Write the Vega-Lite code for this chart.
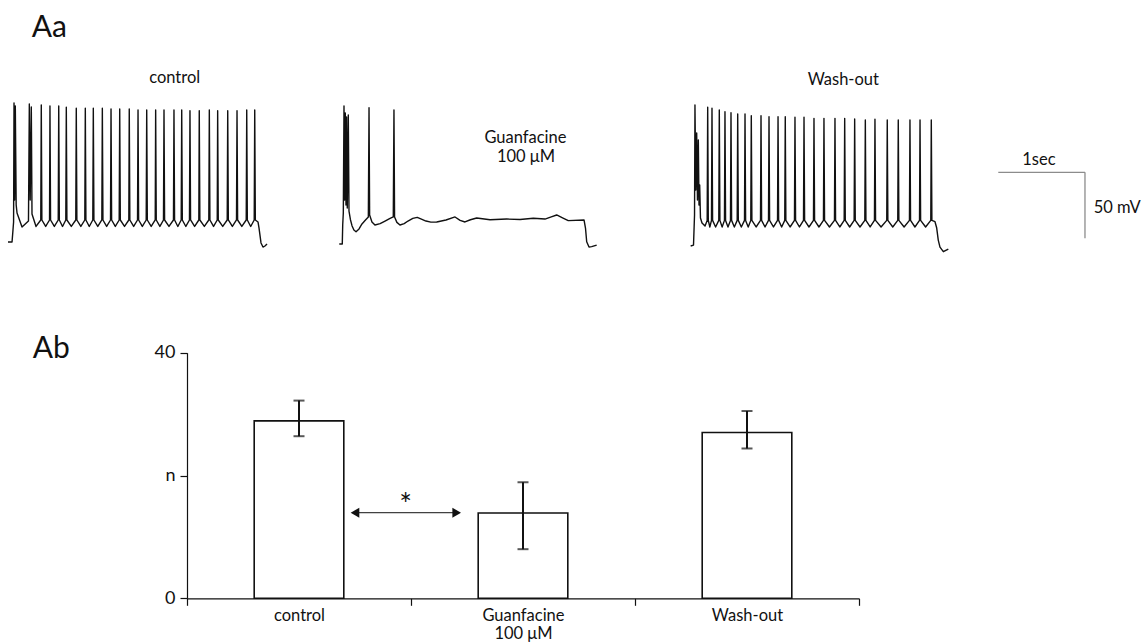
{
"$schema": "https://vega.github.io/schema/vega-lite/v6.json",
"width": 1145, "height": 642, "autosize": {"type": "none"}, "padding": 0,
"background": "white",
"config": {"view": {"stroke": null}, "font": "Lato"},
"datasets": {
"traces": [
{"trace":"control","t":0.093,"mV":-62.9},{"trace":"control","t":0.140,"mV":-62.9},{"trace":"control","t":0.151,"mV":-53.8},{"trace":"control","t":0.158,"mV":-47.7},{"trace":"control","t":0.163,"mV":42.4},{"trace":"control","t":0.170,"mV":-31.1},{"trace":"control","t":0.178,"mV":40.2},{"trace":"control","t":0.188,"mV":-34.8},{"trace":"control","t":0.198,"mV":-40.9},{"trace":"control","t":0.256,"mV":-51.5},{"trace":"control","t":0.331,"mV":-47.0},{"trace":"control","t":0.341,"mV":41.7},{"trace":"control","t":0.351,"mV":-31.1},{"trace":"control","t":0.364,"mV":39.4},{"trace":"control","t":0.372,"mV":-41.7},{"trace":"control","t":0.419,"mV":-51.1},
{"trace":"control","t":0.474,"mV":-46.2},{"trace":"control","t":0.480,"mV":40.9},{"trace":"control","t":0.487,"mV":-46.2},{"trace":"control","t":0.531,"mV":-51.1},
{"trace":"control","t":0.576,"mV":-46.2},{"trace":"control","t":0.581,"mV":40.2},{"trace":"control","t":0.588,"mV":-46.2},{"trace":"control","t":0.632,"mV":-51.1},
{"trace":"control","t":0.677,"mV":-46.2},{"trace":"control","t":0.683,"mV":40.2},{"trace":"control","t":0.690,"mV":-46.2},{"trace":"control","t":0.727,"mV":-51.1},
{"trace":"control","t":0.765,"mV":-46.2},{"trace":"control","t":0.771,"mV":39.2},{"trace":"control","t":0.778,"mV":-46.2},{"trace":"control","t":0.829,"mV":-51.1},
{"trace":"control","t":0.881,"mV":-46.2},{"trace":"control","t":0.887,"mV":38.4},{"trace":"control","t":0.894,"mV":-46.2},{"trace":"control","t":0.940,"mV":-51.1},
{"trace":"control","t":0.986,"mV":-46.2},{"trace":"control","t":0.992,"mV":38.4},{"trace":"control","t":0.999,"mV":-46.2},{"trace":"control","t":1.038,"mV":-51.1},
{"trace":"control","t":1.079,"mV":-46.2},{"trace":"control","t":1.085,"mV":38.4},{"trace":"control","t":1.092,"mV":-46.2},{"trace":"control","t":1.137,"mV":-51.1},
{"trace":"control","t":1.184,"mV":-46.2},{"trace":"control","t":1.190,"mV":38.4},{"trace":"control","t":1.197,"mV":-46.2},{"trace":"control","t":1.240,"mV":-51.1},
{"trace":"control","t":1.285,"mV":-46.2},{"trace":"control","t":1.291,"mV":37.9},{"trace":"control","t":1.298,"mV":-46.2},{"trace":"control","t":1.341,"mV":-51.1},
{"trace":"control","t":1.386,"mV":-46.2},{"trace":"control","t":1.392,"mV":37.9},{"trace":"control","t":1.399,"mV":-46.2},{"trace":"control","t":1.448,"mV":-51.1},
{"trace":"control","t":1.498,"mV":-46.2},{"trace":"control","t":1.503,"mV":37.9},{"trace":"control","t":1.510,"mV":-46.2},{"trace":"control","t":1.554,"mV":-51.1},
{"trace":"control","t":1.599,"mV":-46.2},{"trace":"control","t":1.605,"mV":37.1},{"trace":"control","t":1.612,"mV":-46.2},{"trace":"control","t":1.655,"mV":-51.1},
{"trace":"control","t":1.700,"mV":-46.2},{"trace":"control","t":1.706,"mV":37.1},{"trace":"control","t":1.713,"mV":-46.2},{"trace":"control","t":1.758,"mV":-51.1},
{"trace":"control","t":1.805,"mV":-46.2},{"trace":"control","t":1.810,"mV":37.1},{"trace":"control","t":1.817,"mV":-46.2},{"trace":"control","t":1.859,"mV":-51.1},
{"trace":"control","t":1.901,"mV":-46.2},{"trace":"control","t":1.907,"mV":37.1},{"trace":"control","t":1.914,"mV":-46.2},{"trace":"control","t":1.965,"mV":-51.1},
{"trace":"control","t":2.017,"mV":-46.2},{"trace":"control","t":2.023,"mV":37.1},{"trace":"control","t":2.030,"mV":-46.2},{"trace":"control","t":2.068,"mV":-51.1},
{"trace":"control","t":2.107,"mV":-46.2},{"trace":"control","t":2.113,"mV":37.1},{"trace":"control","t":2.120,"mV":-46.2},{"trace":"control","t":2.161,"mV":-51.1},
{"trace":"control","t":2.203,"mV":-46.2},{"trace":"control","t":2.209,"mV":36.6},{"trace":"control","t":2.216,"mV":-46.2},{"trace":"control","t":2.263,"mV":-51.1},
{"trace":"control","t":2.312,"mV":-46.2},{"trace":"control","t":2.317,"mV":36.6},{"trace":"control","t":2.324,"mV":-46.2},{"trace":"control","t":2.376,"mV":-51.1},
{"trace":"control","t":2.428,"mV":-46.2},{"trace":"control","t":2.434,"mV":37.1},{"trace":"control","t":2.441,"mV":-46.2},{"trace":"control","t":2.483,"mV":-51.1},
{"trace":"control","t":2.526,"mV":-46.2},{"trace":"control","t":2.531,"mV":36.6},{"trace":"control","t":2.538,"mV":-46.2},{"trace":"control","t":2.590,"mV":-51.1},
{"trace":"control","t":2.642,"mV":-46.2},{"trace":"control","t":2.648,"mV":36.6},{"trace":"control","t":2.655,"mV":-46.2},{"trace":"control","t":2.702,"mV":-51.1},
{"trace":"control","t":2.750,"mV":-46.2},{"trace":"control","t":2.756,"mV":36.6},{"trace":"control","t":2.763,"mV":-46.2},{"trace":"control","t":2.812,"mV":-51.1},
{"trace":"control","t":2.863,"mV":-46.2},{"trace":"control","t":2.869,"mV":37.1},{"trace":"control","t":2.876,"mV":-46.2},{"trace":"control","t":2.915,"mV":-51.1},
{"trace":"control","t":2.956,"mV":-46.2},{"trace":"control","t":2.962,"mV":37.1},{"trace":"control","t":2.969,"mV":-46.2},
{"trace":"control","t":3.000,"mV":-47.7},{"trace":"control","t":3.012,"mV":-52.3},{"trace":"control","t":3.035,"mV":-63.6},{"trace":"control","t":3.058,"mV":-66.7},{"trace":"control","t":3.081,"mV":-65.9},{"trace":"control","t":3.105,"mV":-64.4},
{"trace":"guanfacine","t":3.945,"mV":-64.4},{"trace":"guanfacine","t":3.980,"mV":-64.4},{"trace":"guanfacine","t":3.985,"mV":-50.0},{"trace":"guanfacine","t":3.992,"mV":-40.9},{"trace":"guanfacine","t":4.000,"mV":40.2},{"trace":"guanfacine","t":4.007,"mV":-31.1},{"trace":"guanfacine","t":4.015,"mV":34.9},{"trace":"guanfacine","t":4.023,"mV":-34.8},{"trace":"guanfacine","t":4.030,"mV":31.8},{"trace":"guanfacine","t":4.038,"mV":-37.1},{"trace":"guanfacine","t":4.050,"mV":33.3},{"trace":"guanfacine","t":4.058,"mV":-39.4},{"trace":"guanfacine","t":4.075,"mV":-46.0},{"trace":"guanfacine","t":4.093,"mV":-50.5},{"trace":"guanfacine","t":4.115,"mV":-53.8},{"trace":"guanfacine","t":4.140,"mV":-55.1},{"trace":"guanfacine","t":4.175,"mV":-53.0},{"trace":"guanfacine","t":4.209,"mV":-49.2},{"trace":"guanfacine","t":4.250,"mV":-46.2},{"trace":"guanfacine","t":4.283,"mV":-43.9},{"trace":"guanfacine","t":4.291,"mV":38.9},{"trace":"guanfacine","t":4.298,"mV":-42.4},{"trace":"guanfacine","t":4.325,"mV":-47.7},{"trace":"guanfacine","t":4.360,"mV":-50.0},{"trace":"guanfacine","t":4.420,"mV":-49.0},{"trace":"guanfacine","t":4.477,"mV":-47.0},{"trace":"guanfacine","t":4.530,"mV":-45.2},{"trace":"guanfacine","t":4.573,"mV":-43.9},{"trace":"guanfacine","t":4.581,"mV":37.1},{"trace":"guanfacine","t":4.588,"mV":-43.9},{"trace":"guanfacine","t":4.615,"mV":-48.0},{"trace":"guanfacine","t":4.651,"mV":-50.0},{"trace":"guanfacine","t":4.700,"mV":-49.0},{"trace":"guanfacine","t":4.744,"mV":-47.0},{"trace":"guanfacine","t":4.800,"mV":-45.0},{"trace":"guanfacine","t":4.852,"mV":-44.2},{"trace":"guanfacine","t":4.900,"mV":-45.5},{"trace":"guanfacine","t":4.953,"mV":-47.0},{"trace":"guanfacine","t":5.010,"mV":-47.8},{"trace":"guanfacine","t":5.078,"mV":-47.7},{"trace":"guanfacine","t":5.186,"mV":-46.2},{"trace":"guanfacine","t":5.291,"mV":-43.9},{"trace":"guanfacine","t":5.350,"mV":-46.5},{"trace":"guanfacine","t":5.407,"mV":-47.7},{"trace":"guanfacine","t":5.470,"mV":-46.0},{"trace":"guanfacine","t":5.543,"mV":-44.7},{"trace":"guanfacine","t":5.698,"mV":-46.0},{"trace":"guanfacine","t":5.892,"mV":-45.5},{"trace":"guanfacine","t":6.047,"mV":-45.8},{"trace":"guanfacine","t":6.201,"mV":-44.9},{"trace":"guanfacine","t":6.337,"mV":-45.5},{"trace":"guanfacine","t":6.410,"mV":-43.8},{"trace":"guanfacine","t":6.473,"mV":-42.4},{"trace":"guanfacine","t":6.547,"mV":-44.7},{"trace":"guanfacine","t":6.608,"mV":-46.7},{"trace":"guanfacine","t":6.791,"mV":-46.2},{"trace":"guanfacine","t":6.808,"mV":-52.3},{"trace":"guanfacine","t":6.822,"mV":-62.7},{"trace":"guanfacine","t":6.849,"mV":-66.7},{"trace":"guanfacine","t":6.880,"mV":-66.4},{"trace":"guanfacine","t":6.938,"mV":-65.2},
{"trace":"washout","t":8.031,"mV":-65.9},{"trace":"washout","t":8.064,"mV":-65.2},{"trace":"washout","t":8.070,"mV":-53.8},{"trace":"washout","t":8.076,"mV":-42.4},{"trace":"washout","t":8.081,"mV":40.9},{"trace":"washout","t":8.091,"mV":-23.5},{"trace":"washout","t":8.101,"mV":19.7},{"trace":"washout","t":8.110,"mV":-31.1},{"trace":"washout","t":8.120,"mV":14.4},{"trace":"washout","t":8.128,"mV":-34.8},{"trace":"washout","t":8.136,"mV":-19.7},{"trace":"washout","t":8.145,"mV":-44.7},{"trace":"washout","t":8.163,"mV":-48.5},{"trace":"washout","t":8.198,"mV":-50.8},
{"trace":"washout","t":8.223,"mV":-46.5},{"trace":"washout","t":8.229,"mV":39.2},{"trace":"washout","t":8.236,"mV":-46.5},{"trace":"washout","t":8.254,"mV":-51.5},
{"trace":"washout","t":8.273,"mV":-46.5},{"trace":"washout","t":8.279,"mV":38.4},{"trace":"washout","t":8.286,"mV":-46.5},{"trace":"washout","t":8.321,"mV":-51.5},
{"trace":"washout","t":8.358,"mV":-46.5},{"trace":"washout","t":8.364,"mV":37.1},{"trace":"washout","t":8.371,"mV":-46.5},{"trace":"washout","t":8.397,"mV":-51.5},
{"trace":"washout","t":8.424,"mV":-46.5},{"trace":"washout","t":8.430,"mV":35.8},{"trace":"washout","t":8.437,"mV":-46.5},{"trace":"washout","t":8.465,"mV":-51.5},
{"trace":"washout","t":8.494,"mV":-46.5},{"trace":"washout","t":8.500,"mV":35.1},{"trace":"washout","t":8.507,"mV":-46.5},{"trace":"washout","t":8.539,"mV":-51.5},
{"trace":"washout","t":8.572,"mV":-46.5},{"trace":"washout","t":8.578,"mV":34.1},{"trace":"washout","t":8.585,"mV":-46.5},{"trace":"washout","t":8.620,"mV":-51.5},
{"trace":"washout","t":8.657,"mV":-46.5},{"trace":"washout","t":8.663,"mV":34.1},{"trace":"washout","t":8.670,"mV":-46.5},{"trace":"washout","t":8.700,"mV":-51.5},
{"trace":"washout","t":8.730,"mV":-46.5},{"trace":"washout","t":8.736,"mV":32.8},{"trace":"washout","t":8.743,"mV":-46.5},{"trace":"washout","t":8.792,"mV":-51.5},
{"trace":"washout","t":8.843,"mV":-46.5},{"trace":"washout","t":8.849,"mV":32.8},{"trace":"washout","t":8.856,"mV":-46.5},{"trace":"washout","t":8.896,"mV":-51.5},
{"trace":"washout","t":8.936,"mV":-46.5},{"trace":"washout","t":8.942,"mV":32.0},{"trace":"washout","t":8.949,"mV":-46.5},{"trace":"washout","t":8.994,"mV":-51.5},
{"trace":"washout","t":9.041,"mV":-46.5},{"trace":"washout","t":9.047,"mV":32.0},{"trace":"washout","t":9.054,"mV":-46.5},{"trace":"washout","t":9.089,"mV":-51.5},
{"trace":"washout","t":9.125,"mV":-46.5},{"trace":"washout","t":9.131,"mV":32.0},{"trace":"washout","t":9.138,"mV":-46.5},{"trace":"washout","t":9.187,"mV":-51.5},
{"trace":"washout","t":9.238,"mV":-46.5},{"trace":"washout","t":9.244,"mV":31.6},{"trace":"washout","t":9.251,"mV":-46.5},{"trace":"washout","t":9.296,"mV":-51.5},
{"trace":"washout","t":9.343,"mV":-46.5},{"trace":"washout","t":9.349,"mV":31.6},{"trace":"washout","t":9.356,"mV":-46.5},{"trace":"washout","t":9.407,"mV":-51.5},
{"trace":"washout","t":9.459,"mV":-46.5},{"trace":"washout","t":9.465,"mV":30.8},{"trace":"washout","t":9.472,"mV":-46.5},{"trace":"washout","t":9.523,"mV":-51.5},
{"trace":"washout","t":9.575,"mV":-46.5},{"trace":"washout","t":9.581,"mV":30.8},{"trace":"washout","t":9.588,"mV":-46.5},{"trace":"washout","t":9.645,"mV":-51.5},
{"trace":"washout","t":9.703,"mV":-46.5},{"trace":"washout","t":9.709,"mV":30.8},{"trace":"washout","t":9.716,"mV":-46.5},{"trace":"washout","t":9.765,"mV":-51.5},
{"trace":"washout","t":9.816,"mV":-46.5},{"trace":"washout","t":9.822,"mV":30.8},{"trace":"washout","t":9.829,"mV":-46.5},{"trace":"washout","t":9.880,"mV":-51.5},
{"trace":"washout","t":9.932,"mV":-46.5},{"trace":"washout","t":9.938,"mV":30.3},{"trace":"washout","t":9.945,"mV":-46.5},{"trace":"washout","t":10.000,"mV":-51.5},
{"trace":"washout","t":10.056,"mV":-46.5},{"trace":"washout","t":10.062,"mV":29.5},{"trace":"washout","t":10.069,"mV":-46.5},{"trace":"washout","t":10.118,"mV":-51.5},
{"trace":"washout","t":10.168,"mV":-46.5},{"trace":"washout","t":10.174,"mV":30.1},{"trace":"washout","t":10.181,"mV":-46.5},{"trace":"washout","t":10.245,"mV":-51.5},
{"trace":"washout","t":10.311,"mV":-46.5},{"trace":"washout","t":10.317,"mV":29.5},{"trace":"washout","t":10.324,"mV":-46.5},{"trace":"washout","t":10.381,"mV":-51.5},
{"trace":"washout","t":10.439,"mV":-46.5},{"trace":"washout","t":10.445,"mV":29.5},{"trace":"washout","t":10.452,"mV":-46.5},{"trace":"washout","t":10.513,"mV":-51.5},
{"trace":"washout","t":10.575,"mV":-46.5},{"trace":"washout","t":10.581,"mV":29.5},{"trace":"washout","t":10.588,"mV":-46.5},{"trace":"washout","t":10.639,"mV":-51.5},
{"trace":"washout","t":10.692,"mV":-46.5},{"trace":"washout","t":10.698,"mV":29.5},{"trace":"washout","t":10.705,"mV":-46.5},{"trace":"washout","t":10.763,"mV":-51.5},
{"trace":"washout","t":10.823,"mV":-46.5},{"trace":"washout","t":10.829,"mV":29.5},{"trace":"washout","t":10.836,"mV":-46.5},
{"trace":"washout","t":10.872,"mV":-47.5},{"trace":"washout","t":10.892,"mV":-52.3},{"trace":"washout","t":10.910,"mV":-61.4},{"trace":"washout","t":10.930,"mV":-66.7},{"trace":"washout","t":10.969,"mV":-70.2},{"trace":"washout","t":11.027,"mV":-68.2}
],
"scalebar": [
{"bar":"1 s","t":11.608,"t2":12.616,"mV":-10.1,"mV2":-10.1},
{"bar":"50 mV","t":12.616,"t2":12.616,"mV":-10.1,"mV2":-60.1}
],
"panels": [
{"label":"Aa","t":0.369,"mV":92.7},
{"label":"Ab","t":0.380,"mV":-151.0}
],
"traceLabels": [
{"label":"control","t":2.031,"mV":57.3},
{"label":"Guanfacine","t":6.110,"mV":12.3},
{"label":"100 μM","t":6.116,"mV":-2.0},
{"label":"Wash-out","t":9.806,"mV":56.1},
{"label":"1sec","t":12.08,"mV":-4.5},
{"label":"50 mV","t":12.991,"mV":-41.1}
],
"bars": [
{"condition":"control","mean":28.9,"lo":26.4,"hi":32.2},
{"condition":"Guanfacine","mean":13.9,"lo":8.0,"hi":18.9},
{"condition":"Wash-out","mean":27.0,"lo":24.4,"hi":30.5}
],
"annotation": [
{"part":"shaft","pos":0.75,"pos2":1.204,"level":13.94},
{"part":"head-left","pos":0.75,"level":13.94},
{"part":"head-right","pos":1.204,"level":13.94},
{"part":"star","pos":0.976,"level":13.6,"label":"*"}
]
},
"layer": [
{
"layer": [
{"data": {"name": "traces"}, "mark": {"type": "line", "color": "#111", "strokeWidth": 1.4, "strokeJoin": "round"},
 "encoding": {"x": {"field": "t", "type": "quantitative", "scale": {"domain": [0, 13.314], "nice": false, "zero": false}, "axis": null},
  "y": {"field": "mV", "type": "quantitative", "scale": {"domain": [-365.9, 120.46], "nice": false, "zero": false}, "axis": null},
  "detail": {"field": "trace"}}},
{"data": {"name": "scalebar"}, "mark": {"type": "rule", "color": "#8c8c8c", "strokeWidth": 1.3},
 "encoding": {"x": {"field": "t", "type": "quantitative", "scale": {"domain": [0, 13.314], "nice": false, "zero": false}, "axis": null}, "x2": {"field": "t2"},
  "y": {"field": "mV", "type": "quantitative", "scale": {"domain": [-365.9, 120.46], "nice": false, "zero": false}, "axis": null}, "y2": {"field": "mV2"}}},
{"data": {"name": "panels"}, "mark": {"type": "text", "fontSize": 30, "align": "left", "baseline": "alphabetic", "color": "#111"},
 "encoding": {"x": {"field": "t", "type": "quantitative", "scale": {"domain": [0, 13.314], "nice": false, "zero": false}, "axis": null},
  "y": {"field": "mV", "type": "quantitative", "scale": {"domain": [-365.9, 120.46], "nice": false, "zero": false}, "axis": null}, "text": {"field": "label"}}},
{"data": {"name": "traceLabels"}, "mark": {"type": "text", "fontSize": 16.5, "align": "center", "baseline": "alphabetic", "color": "#111"},
 "encoding": {"x": {"field": "t", "type": "quantitative", "scale": {"domain": [0, 13.314], "nice": false, "zero": false}, "axis": null},
  "y": {"field": "mV", "type": "quantitative", "scale": {"domain": [-365.9, 120.46], "nice": false, "zero": false}, "axis": null}, "text": {"field": "label"}}}
]
},
{
"data": {"name": "bars"},
"encoding": {
 "x": {"field": "condition", "type": "nominal", "sort": null, "title": null,
  "scale": {"range": [187, 859], "paddingInner": 0, "paddingOuter": 0},
  "axis": {"orient": "bottom", "offset": -43.7, "tickBand": "extent", "tickSize": 7, "tickColor": "#111", "tickWidth": 1.2, "domainColor": "#111", "domainWidth": 1.2, "labelAngle": 0, "labelPadding": 2, "labelFontSize": 16.5, "labelColor": "#111", "labelFont": "Lato", "labelLineHeight": 18, "labelExpr": "datum.value == 'Guanfacine' ? ['Guanfacine', '100 μM'] : datum.label", "grid": false}}
},
"layer": [
 {"mark": {"type": "bar", "fill": "white", "stroke": "#111", "strokeWidth": 1.6, "width": {"band": 0.4}},
  "encoding": {"y": {"field": "mean", "type": "quantitative", "title": null,
   "scale": {"domain": [0, 40], "range": [598.3, 352.7], "nice": false},
   "axis": {"orient": "left", "offset": -187, "values": [0, 20, 40], "labelExpr": "datum.value == 20 ? 'n' : datum.label", "tickSize": 7, "tickColor": "#111", "tickWidth": 1.2, "domainColor": "#111", "domainWidth": 1.2, "labelPadding": 5, "labelFontSize": 18, "labelColor": "#111", "labelFont": "Lato", "grid": false}}}},
 {"mark": {"type": "rule", "color": "#111", "strokeWidth": 2},
  "encoding": {"y": {"field": "lo", "type": "quantitative"}, "y2": {"field": "hi"}}},
 {"mark": {"type": "tick", "orient": "horizontal", "color": "#111", "size": 11, "thickness": 2},
  "encoding": {"y": {"field": "lo", "type": "quantitative"}}},
 {"mark": {"type": "tick", "orient": "horizontal", "color": "#111", "size": 11, "thickness": 2},
  "encoding": {"y": {"field": "hi", "type": "quantitative"}}}
]
},
{
"data": {"name": "annotation"},
"encoding": {
 "x": {"field": "pos", "type": "quantitative", "scale": {"domain": [0, 3], "range": [187, 859], "nice": false}, "axis": null},
 "y": {"field": "level", "type": "quantitative", "scale": {"domain": [0, 40], "range": [598.3, 352.7], "nice": false}, "axis": null}
},
"layer": [
 {"transform": [{"filter": "datum.part == 'shaft'"}], "mark": {"type": "rule", "color": "#111", "strokeWidth": 1}, "encoding": {"x2": {"field": "pos2"}}},
 {"transform": [{"filter": "datum.part == 'head-left'"}], "mark": {"type": "point", "shape": "triangle-left", "filled": true, "opacity": 1, "color": "#111", "size": 100}},
 {"transform": [{"filter": "datum.part == 'head-right'"}], "mark": {"type": "point", "shape": "triangle-right", "filled": true, "opacity": 1, "color": "#111", "size": 100}},
 {"transform": [{"filter": "datum.part == 'star'"}], "mark": {"type": "text", "fontSize": 30, "align": "center", "baseline": "alphabetic", "color": "#111"}, "encoding": {"text": {"field": "label"}}}
]
}
],
"resolve": {"scale": {"x": "independent", "y": "independent"}, "axis": {"x": "independent", "y": "independent"}}
}
